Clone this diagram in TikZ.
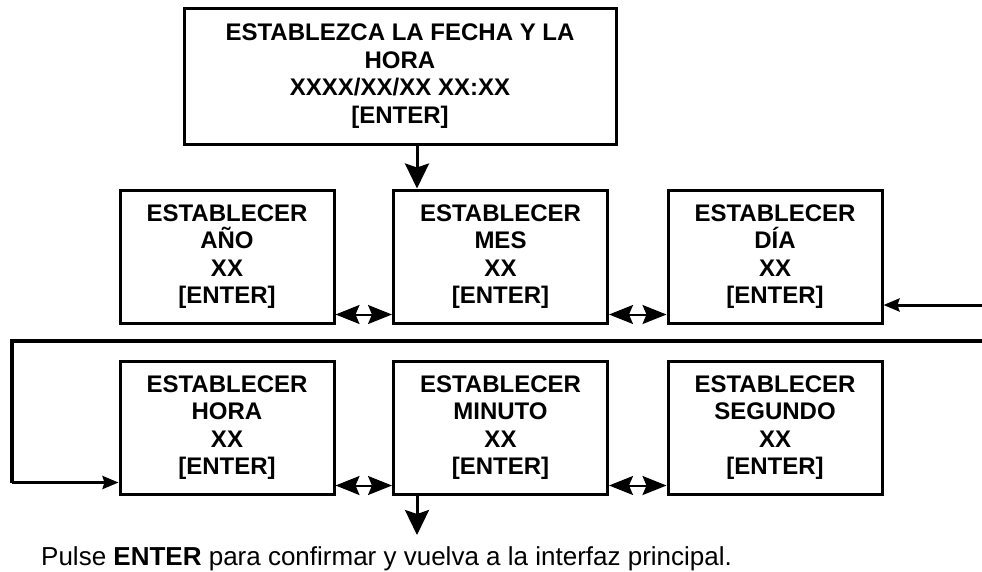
\documentclass[tikz,border=0pt]{standalone}
\usepackage{fontspec}
\setmainfont{Liberation Sans}
\usetikzlibrary{arrows.meta}

\tikzset{
  menubox/.style={draw, line width=3pt, minimum width=214pt, minimum height=133pt,
    align=center, inner sep=0pt, font=\fontsize{24}{27.5}\selectfont\bfseries},
  bigtip/.tip={Stealth[length=25pt,width=24pt,inset=4pt]},
  smalltip/.tip={Stealth[length=16pt,width=13pt,inset=2pt]},
  flow/.style={line width=3pt, arrows={-bigtip}},
  feed/.style={line width=3pt, arrows={-smalltip}},
  swap/.style={line width=2pt, arrows={Stealth[length=24pt,width=19pt,inset=4pt]-Stealth[length=24pt,width=19pt,inset=4pt]}}
}

\begin{document}
\begin{tikzpicture}[x=1pt,y=-1pt]
\useasboundingbox (0,0) rectangle (982,571);
% top box
\node[menubox, minimum width=432pt, minimum height=136pt] (fecha) at (400,76) {ESTABLEZCA LA FECHA Y LA\\HORA\\XXXX/XX/XX XX:XX\\{[ENTER]}};
% first row
\node[menubox] (anio) at (227,256.5) {ESTABLECER\\AÑO\\XX\\{[ENTER]}};
\node[menubox] (mes) at (500.5,256.5) {ESTABLECER\\MES\\XX\\{[ENTER]}};
\node[menubox] (dia) at (775,256.5) {ESTABLECER\\DÍA\\XX\\{[ENTER]}};
% second row
\node[menubox] (hora) at (227,427.5) {ESTABLECER\\HORA\\XX\\{[ENTER]}};
\node[menubox] (minuto) at (500.5,427.5) {ESTABLECER\\MINUTO\\XX\\{[ENTER]}};
\node[menubox] (segundo) at (775,427.5) {ESTABLECER\\SEGUNDO\\XX\\{[ENTER]}};
\node[anchor=base west, inner sep=0pt, font=\fontsize{26}{30}\selectfont] (nota) at (41,565) {Pulse \textbf{ENTER} para confirmar y vuelva a la interfaz principal.};

\coordinate (drop) at (417,0);
\coordinate (rin) at (982,305);
\coordinate (rout) at (982,341);
\coordinate (lcorner) at (12,341);
\coordinate (fin) at (417,535);

\draw[flow] (fecha.south -| drop) -- (mes.north -| drop);
\draw[swap] ([yshift=10pt]anio.south east) -- ([yshift=10pt]mes.south west);
\draw[swap] ([yshift=10pt]mes.south east) -- ([yshift=10pt]dia.south west);
\draw[feed] (rin) -- (rin -| dia.east);
\draw[line width=4pt] (rout) -- (lcorner) -- ([yshift=13pt]lcorner |- hora.south);
\draw[feed] ([yshift=13pt]lcorner |- hora.south) -- ([yshift=13pt]hora.south west);
\draw[swap] ([yshift=10pt]hora.south east) -- ([yshift=10pt]minuto.south west);
\draw[swap] ([yshift=10pt]minuto.south east) -- ([yshift=10pt]segundo.south west);
\draw[flow] (minuto.south -| drop) -- (fin);
\end{tikzpicture}
\end{document}
